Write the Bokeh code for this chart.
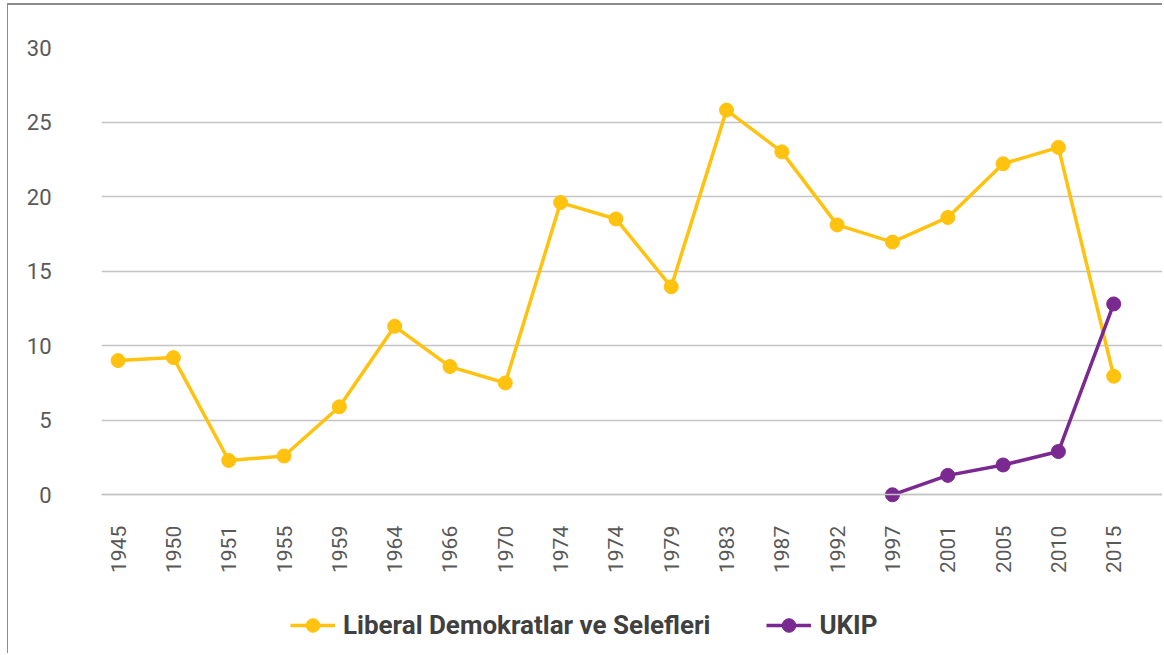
import math
from bokeh.plotting import figure
from bokeh.models import Range1d, FixedTicker, Legend, LegendItem
from bokeh.embed import file_html
from bokeh.resources import INLINE

years = ["1945", "1950", "1951", "1955", "1959", "1964", "1966", "1970", "1974", "1974",
         "1979", "1983", "1987", "1992", "1997", "2001", "2005", "2010", "2015"]
libdem = [9.0, 9.2, 2.3, 2.6, 5.9, 11.3, 8.6, 7.5, 19.6, 18.5,
          13.95, 25.8, 23.0, 18.1, 16.95, 18.6, 22.2, 23.3, 7.95]
ukip_years_idx = [14, 15, 16, 17, 18]
ukip = [0.0, 1.3, 2.0, 2.9, 12.8]
y_ticks = [0, 5, 10, 15, 20, 25, 30]

YELLOW = "#FFC20F"
PURPLE = "#7A2990"
GRID = "#c4c4c4"
TEXT = "#595959"

x_idx = list(range(len(years)))

p = figure(width=1155, height=650, output_backend="svg", toolbar_location=None,
           x_range=Range1d(-0.3, 18.9), y_range=Range1d(-10.78, 30),
           min_border_left=93, min_border_right=0, min_border_top=42, min_border_bottom=0)
p.outline_line_color = None
p.styles = {"margin-left": "7px", "margin-top": "3px",
            "border-left": "1.5px solid #8c8c8c", "border-top": "2px solid #8c8c8c"}

p.xgrid.visible = False
p.ygrid.grid_line_color = GRID
p.ygrid.grid_line_width = 1.5
p.yaxis.ticker = FixedTicker(ticks=y_ticks)
p.ygrid.ticker = FixedTicker(ticks=y_ticks)
p.yaxis.axis_line_color = None
p.yaxis.major_tick_line_color = None
p.yaxis.minor_tick_line_color = None
p.yaxis.major_label_standoff = 44
p.yaxis.major_label_text_font = "Roboto"
p.yaxis.major_label_text_font_size = "22px"
p.yaxis.major_label_text_color = TEXT

xa = p.xaxis[0]
xa.fixed_location = 0
xa.ticker = FixedTicker(ticks=x_idx)
xa.major_label_overrides = {i: y for i, y in enumerate(years)}
xa.major_label_orientation = math.pi / 2
xa.axis_line_color = GRID
xa.axis_line_width = 1.5
xa.major_tick_line_color = None
xa.minor_tick_line_color = None
xa.major_label_standoff = 25
xa.major_label_text_font = "Roboto"
xa.major_label_text_font_size = "21px"
xa.major_label_text_color = TEXT

l1 = p.line(x_idx, libdem, line_color=YELLOW, line_width=3.5)
c1 = p.scatter(x_idx, libdem, size=14, fill_color=YELLOW, line_color=YELLOW)
l2 = p.line(ukip_years_idx, ukip, line_color=PURPLE, line_width=3.5)
c2 = p.scatter(ukip_years_idx, ukip, size=14, fill_color=PURPLE, line_color=PURPLE)

legend = Legend(items=[LegendItem(label="Liberal Demokratlar ve Selefleri", renderers=[l1, c1]),
                       LegendItem(label="UKIP", renderers=[l2, c2])],
                orientation="horizontal", location=(189, 13),
                glyph_width=45, glyph_height=34, label_standoff=8, spacing=56,
                padding=0, margin=0, border_line_color=None, background_fill_alpha=0,
                label_text_font="Roboto", label_text_font_style="bold",
                label_text_font_size="26px", label_text_color="#404040")
p.add_layout(legend, "center")

open("out.html", "w").write(file_html(p, INLINE))
